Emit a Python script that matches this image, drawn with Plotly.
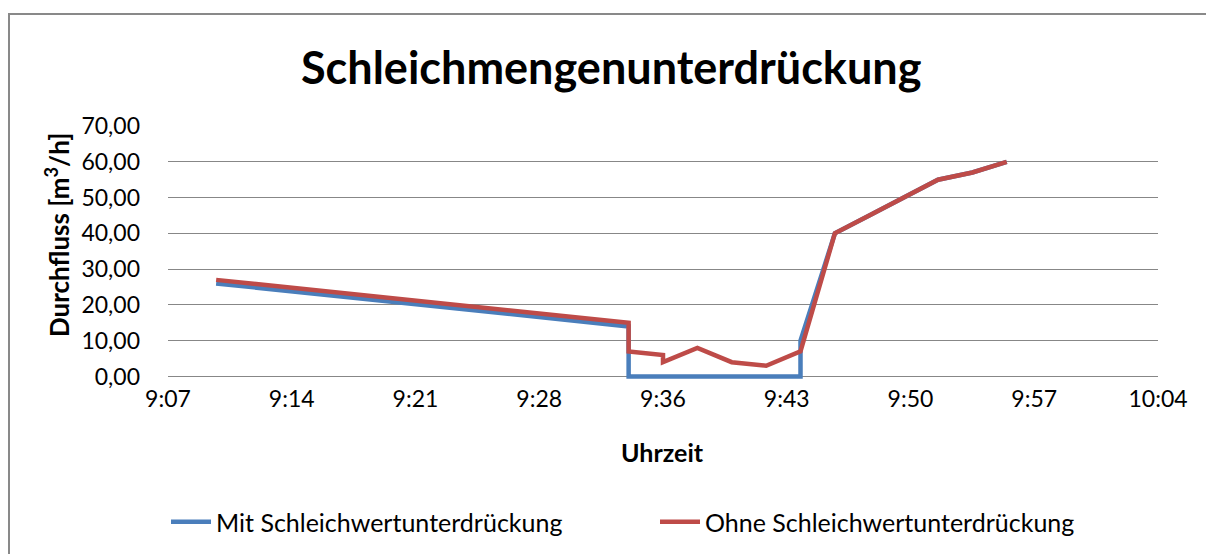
import plotly.graph_objects as go

# ---- data ----
day = "2024-01-01 "
times_mit = ["09:10", "09:34", "09:34", "09:44", "09:44", "09:46", "09:48", "09:50", "09:52", "09:54", "09:56"]
values_mit = [26, 14, 0, 0, 10, 40, 45, 50, 55, 57, 60]

times_ohne = ["09:10", "09:34", "09:34", "09:36", "09:36", "09:38", "09:40", "09:42", "09:44", "09:46", "09:48", "09:50", "09:52", "09:54", "09:56"]
values_ohne = [27, 15, 7, 6, 4, 8, 4, 3, 7, 40, 45, 50, 55, 57, 60]

x_tick_times = ["09:07:12", "09:14:24", "09:21:36", "09:28:48", "09:36:00", "09:43:12", "09:50:24", "09:57:36", "10:04:48"]
x_tick_labels = ["9:07", "9:14", "9:21", "9:28", "9:36", "9:43", "9:50", "9:57", "10:04"]
y_tick_vals = [0, 10, 20, 30, 40, 50, 60, 70]
y_tick_labels = ["0,00", "10,00", "20,00", "30,00", "40,00", "50,00", "60,00", "70,00"]

series_names = ["Mit Schleichwertunterdrückung", "Ohne Schleichwertunterdrückung"]
title_text = "Schleichmengenunterdrückung"
x_title = "Uhrzeit"
y_title = "Durchfluss [m<sup>3</sup>/h]"

FONT = "Lato, Carlito, Calibri, sans-serif"
GRID = "#878787"
BLUE = "#4A7EBB"
RED = "#BE4B48"

OFF = 8  # page body margin
W, H = 1206, 546
L, R, T, B = 160, 56, 118, 175
PW, PH = W - L - R, H - T - B


def px_x(page_px):
    return (page_px - OFF - L) / PW


def px_y(page_py):
    return (H - B - (page_py - OFF)) / PH


fig = go.Figure()
fig.add_trace(go.Scatter(
    x=[day + t for t in times_mit], y=values_mit, mode="lines", name=series_names[0],
    line=dict(color=BLUE, width=4.5, shape="linear"),
))
fig.add_trace(go.Scatter(
    x=[day + t for t in times_ohne], y=values_ohne, mode="lines", name=series_names[1],
    line=dict(color=RED, width=4.5, shape="linear"),
))

fig.update_layout(
    width=W, height=H,
    margin=dict(l=L, r=R, t=T, b=B, autoexpand=False),
    paper_bgcolor="white", plot_bgcolor="white",
    font=dict(family=FONT, size=23, color="#000000"),
    showlegend=True,
    legend=dict(
        orientation="h", x=px_x(166), xanchor="left", y=px_y(522), yanchor="middle",
        font=dict(family=FONT, size=25, color="#000000"),
        entrywidth=434, entrywidthmode="pixels", bgcolor="rgba(0,0,0,0)",
        itemwidth=40, tracegroupgap=0,
    ),
    xaxis=dict(
        type="date",
        range=[day + x_tick_times[0], day + x_tick_times[-1]],
        tickmode="array",
        tickvals=[day + t for t in x_tick_times],
        ticktext=x_tick_labels,
        showgrid=False, zeroline=False, showline=False,
        ticks="", ticklabelstandoff=4,
        tickfont=dict(family=FONT, size=23, color="#000000"),
    ),
    yaxis=dict(
        range=[-0.7, 70],
        tickmode="array", tickvals=y_tick_vals, ticktext=y_tick_labels,
        showgrid=True, gridcolor=GRID, gridwidth=1.3,
        zeroline=True, zerolinecolor=GRID, zerolinewidth=1.3,
        showline=False, ticks="", ticklabelstandoff=27,
        tickfont=dict(family=FONT, size=23, color="#000000"),
    ),
    shapes=[dict(
        type="rect", xref="paper", yref="paper",
        x0=px_x(9), x1=px_x(1230), y0=px_y(570), y1=px_y(14),
        line=dict(color="#898989", width=2), fillcolor="rgba(0,0,0,0)", layer="below",
    )],
    annotations=[
        dict(text="<b>" + title_text + "</b>", xref="paper", yref="paper",
             x=px_x(611), y=px_y(67), xanchor="center", yanchor="middle",
             showarrow=False, font=dict(family=FONT, size=45, color="#000000")),
        dict(text="<b>" + x_title + "</b>", xref="paper", yref="paper",
             x=px_x(662), y=px_y(452), xanchor="center", yanchor="middle",
             showarrow=False, font=dict(family=FONT, size=25, color="#000000")),
        dict(text="<b>" + y_title + "</b>", xref="paper", yref="paper",
             x=px_x(57), y=px_y(235), xanchor="center", yanchor="middle", textangle=-90,
             showarrow=False, font=dict(family=FONT, size=26, color="#000000")),
    ],
)

fig.write_html("out.html")
